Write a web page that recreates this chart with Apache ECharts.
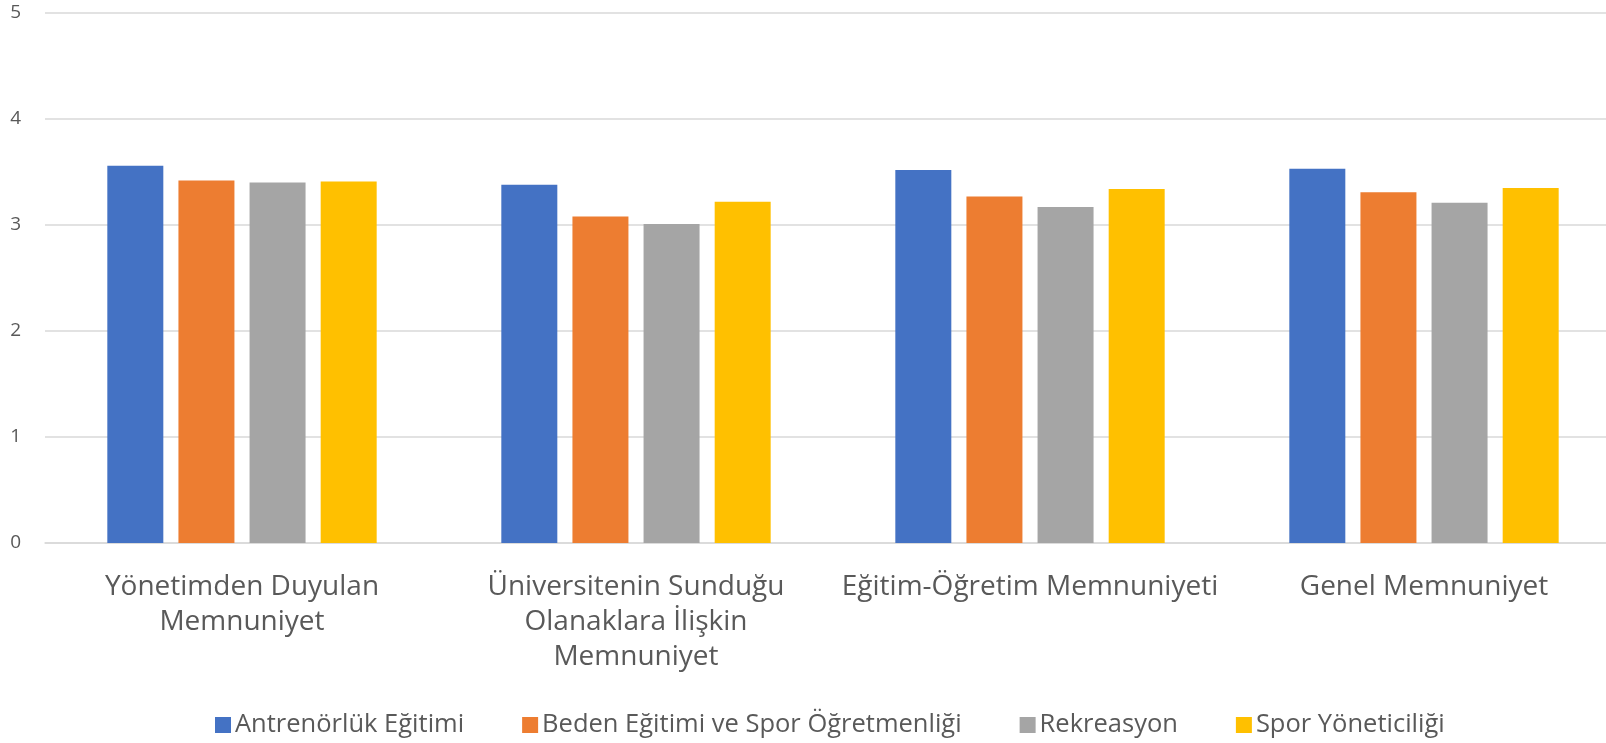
<!DOCTYPE html>
<html>
<head>
<meta charset="utf-8">
<script src="https://cdn.jsdelivr.net/npm/echarts@6/dist/echarts.min.js"></script>
<style>
  html, body { margin: 0; padding: 0; background: #fff; }
  #chart { width: 1606px; height: 743px; }
</style>
</head>
<body>
<div id="chart"></div>
<script>
var categories = [
	"Yönetimden Duyulan\nMemnuniyet",
	"Üniversitenin Sunduğu\nOlanaklara İlişkin\nMemnuniyet",
	"Eğitim-Öğretim Memnuniyeti",
	"Genel Memnuniyet"
];
var seriesNames = ["Antrenörlük Eğitimi", "Beden Eğitimi ve Spor Öğretmenliği", "Rekreasyon", "Spor Yöneticiliği"];
var antrenorluk = [3.56, 3.38, 3.52, 3.53];
var beden = [3.42, 3.08, 3.27, 3.31];
var rekreasyon = [3.40, 3.01, 3.17, 3.21];
var sporYon = [3.41, 3.22, 3.34, 3.35];
var colors = ["#4472C4", "#ED7D31", "#A5A5A5", "#FFC000"];

var font = "'Open Sans', 'Noto Sans', sans-serif";
var chart = echarts.init(document.getElementById("chart"));

var values = [antrenorluk, beden, rekreasyon, sporYon];
var series = values.map(function (d, i) {
	return {
		name : seriesNames[i],
		type : "bar",
		data : d,
		barWidth : 56,
		barGap : "27%",
		itemStyle : { color : colors[i] }
	};
});

chart.setOption({
	animation : false,
	color : colors,
	textStyle : { fontFamily : font },
	grid : {
		left : 45,
		width : 1576,
		top : 13,
		bottom : 200,
		containLabel : false,
		outerBoundsMode : "none"
	},
	legend : {
		top : 707,
		left : 210,
		itemWidth : 16,
		itemHeight : 16,
		itemGap : 58,
		icon : "rect",
		textStyle : { fontSize : 25.5, color : "#595959", fontFamily : font, padding : [0, 0, 0, -1] },
		data : seriesNames
	},
	xAxis : {
		type : "category",
		data : categories,
		axisTick : { show : false },
		axisLine : { lineStyle : { color : "#D9D9D9", width : 1.5 } },
		axisLabel : {
			color : "#595959",
			fontSize : 28,
			lineHeight : 35,
			margin : 27,
			interval : 0,
			fontFamily : font
		}
	},
	yAxis : {
		type : "value",
		min : 0,
		max : 5,
		interval : 1,
		axisLabel : { color : "#595959", fontSize : 19, margin : 24, fontFamily : font, align : "right" },
		splitLine : { lineStyle : { color : "#D9D9D9", width : 1.5 } },
		axisLine : { show : false },
		axisTick : { show : false }
	},
	series : series
});
</script>
</body>
</html>
